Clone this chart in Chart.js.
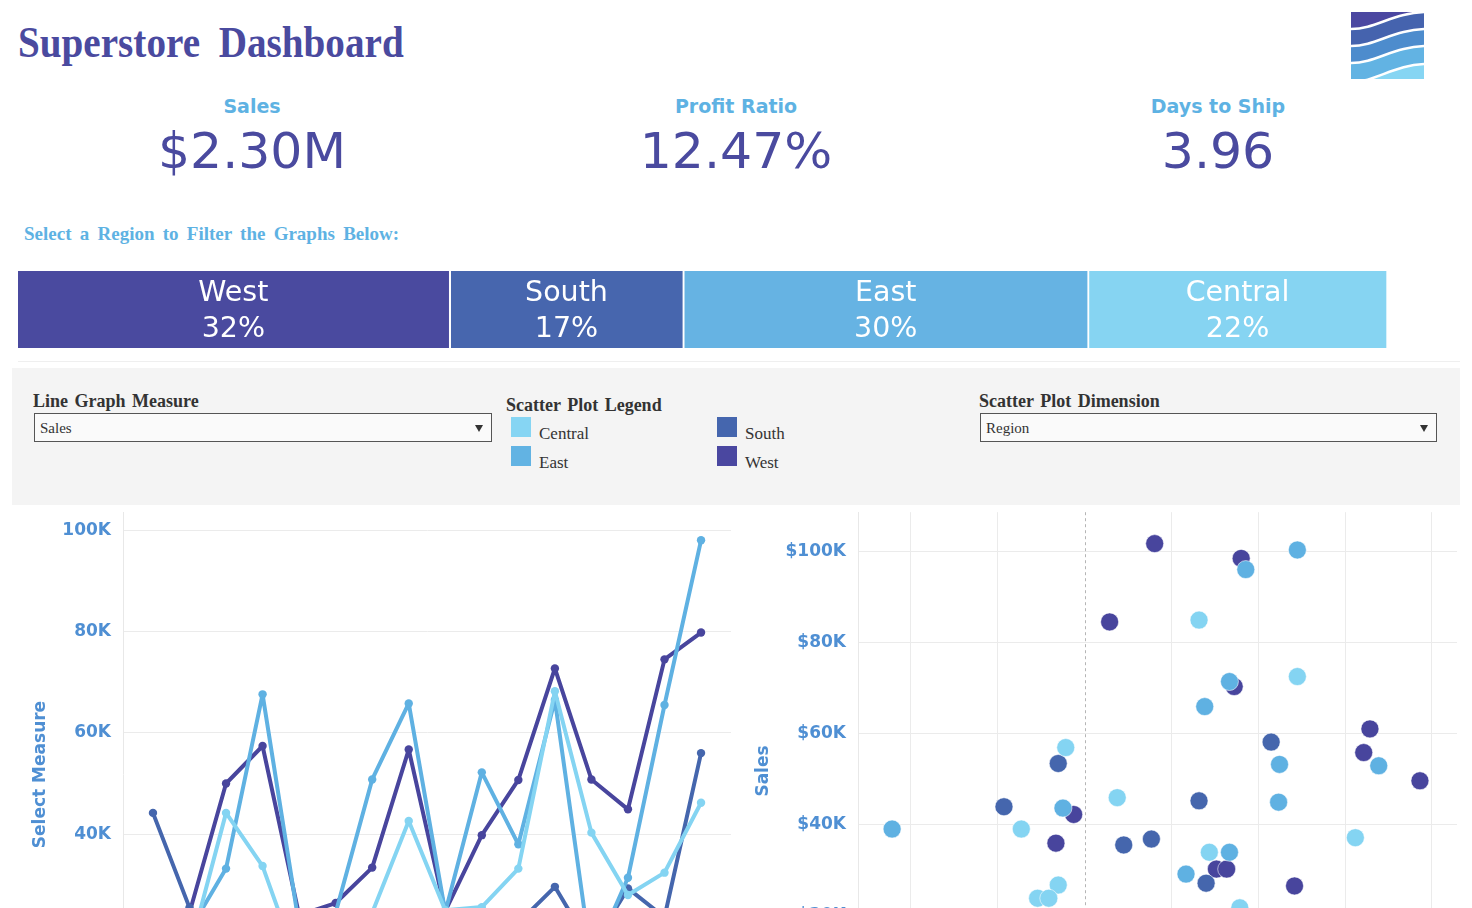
<!DOCTYPE html>
<html>
<head>
<meta charset="utf-8">
<script src="https://cdn.jsdelivr.net/npm/chart.js@4.4.1/dist/chart.umd.min.js"></script>
<style>
html,body{margin:0;padding:0;background:#fff;overflow:hidden;width:1472px;height:908px;}
body{position:relative;font-family:"DejaVu Sans",sans-serif;}
.abs{position:absolute;white-space:nowrap;}
#title{left:18px;top:18px;font-family:"Liberation Serif",serif;font-weight:bold;font-size:44px;line-height:50px;color:#4a4a9f;transform:scaleX(0.89);transform-origin:left top;word-spacing:10px;}
.kpi-label{position:absolute;width:400px;text-align:center;font-weight:bold;font-size:19px;line-height:19px;color:#5eb2e3;top:97px;}
.kpi-value{position:absolute;width:500px;text-align:center;font-size:50.5px;line-height:50px;color:#4a4a9f;top:126px;}
#filterText{left:24px;top:224px;font-family:"Liberation Serif",serif;font-weight:bold;font-size:19px;line-height:19px;color:#5eb2e3;word-spacing:3.5px;}
#sep{left:18px;top:361px;width:1442px;height:1px;background:#efefef;}
#panel{left:12px;top:368px;width:1448px;height:137px;background:#f4f4f4;}
.plabel{position:absolute;font-family:"Liberation Serif",serif;font-weight:bold;font-size:18px;line-height:18px;color:#333;word-spacing:2px;white-space:nowrap;}
.sel{position:absolute;top:413px;height:27px;background:#fafafa;border:1px solid #555;box-sizing:content-box;}
.sel span{position:absolute;left:5px;top:7px;font-family:"Liberation Serif",serif;font-size:15px;line-height:15px;color:#333;}
.sel i{position:absolute;top:11px;width:0;height:0;border-left:4px solid transparent;border-right:4px solid transparent;border-top:7px solid #333;}
.sw{position:absolute;width:20px;height:20px;}
.ltxt{position:absolute;font-family:"Liberation Serif",serif;font-size:17px;line-height:17px;color:#333;}
canvas{position:absolute;}
#logo{position:absolute;left:1351px;top:12px;}
</style>
</head>
<body>
<div id="title" class="abs">Superstore Dashboard</div>

<div class="kpi-label" style="left:52px;">Sales</div>
<div class="kpi-value" style="left:2px;">$2.30M</div>
<div class="kpi-label" style="left:536px;">Profit Ratio</div>
<div class="kpi-value" style="left:486px;">12.47%</div>
<div class="kpi-label" style="left:1018px;">Days to Ship</div>
<div class="kpi-value" style="left:968px;">3.96</div>

<svg id="logo" width="73" height="67" viewBox="0 0 73 67">
  <defs><clipPath id="lc"><rect x="0" y="0" width="73" height="67"/></clipPath></defs>
  <g clip-path="url(#lc)">
    <rect x="0" y="0" width="73" height="67" fill="#86d5f3"/>
    <path d="M-5,-5 L-5,70 L0,70 C26,70 42,52 78,52 L78,-5 Z" fill="#62b3e3"/>
    <path d="M-5,-5 L-5,51 L0,51 C26,51 42,34 78,34 L78,-5 Z" fill="#4d8ccd"/>
    <path d="M-5,-5 L-5,34 L0,34 C26,34 42,17 78,17 L78,-5 Z" fill="#4563ae"/>
    <path d="M-5,-5 L-5,17 L0,17 C26,17 42,0 78,0 L78,-5 Z" fill="#4b47a1"/>
    <path d="M0,70 C26,70 42,52 78,52 M0,51 C26,51 42,34 78,34 M0,34 C26,34 42,17 78,17 M0,17 C26,17 42,0 78,0" fill="none" stroke="#fff" stroke-width="2.5"/>
  </g>
</svg>

<div id="filterText" class="abs">Select a Region to Filter the Graphs Below:</div>

<canvas id="regionBar" width="1370" height="77" style="left:18px;top:271px;"></canvas>
<div id="sep" class="abs"></div>

<div id="panel" class="abs"></div>
<div class="plabel" style="left:33px;top:392px;">Line Graph Measure</div>
<div class="sel" style="left:34px;width:456px;"><span>Sales</span><i style="left:440px;"></i></div>
<div class="plabel" style="left:506px;top:396px;">Scatter Plot Legend</div>
<div class="sw" style="left:511px;top:417px;background:#86d5f3;"></div>
<div class="ltxt" style="left:539px;top:425px;">Central</div>
<div class="sw" style="left:511px;top:446px;background:#62b3e3;"></div>
<div class="ltxt" style="left:539px;top:454px;">East</div>
<div class="sw" style="left:717px;top:417px;background:#4566ae;"></div>
<div class="ltxt" style="left:745px;top:425px;">South</div>
<div class="sw" style="left:717px;top:446px;background:#4a47a0;"></div>
<div class="ltxt" style="left:745px;top:454px;">West</div>
<div class="plabel" style="left:979px;top:392px;">Scatter Plot Dimension</div>
<div class="sel" style="left:980px;width:455px;"><span>Region</span><i style="left:439px;"></i></div>

<canvas id="lineChart" width="719" height="569" style="left:12px;top:490px;"></canvas>
<canvas id="scatterChart" width="715" height="562" style="left:742px;top:490px;"></canvas>

<script>
// ---------------- DATA ----------------
const regions = ['West', 'South', 'East', 'Central'];
const regionSales = [725458, 391722, 678781, 501240];
const regionColors = ['#4a4a9f', '#4766ae', '#66b3e3', '#86d4f2'];

const quarters = ['Q1 2014','Q2 2014','Q3 2014','Q4 2014','Q1 2015','Q2 2015','Q3 2015','Q4 2015',
                  'Q1 2016','Q2 2016','Q3 2016','Q4 2016','Q1 2017','Q2 2017','Q3 2017','Q4 2017'];
const westSales    = [15000, 24500, 50000, 57400, 24000, 26400, 33400, 56700, 24800, 39800, 50700, 72700, 50800, 44900, 74500, 79800];
const southSales   = [44200, 25500, 15000, 18000, 14000, 19000, 16000, 21000, 17000, 20000, 22500, 29600, 17500, 29300, 23600, 56000];
const eastSales    = [10000, 21000, 33200, 67600, 22000, 24500, 50800, 65800, 24600, 52200, 38000, 66500, 15000, 31400, 65500, 98000];
const centralSales = [12000, 17000, 44200, 33700, 13500, 15000, 24500, 42600, 25000, 25600, 33200, 68200, 40300, 28000, 32400, 46200];
const lineTickValues = [0, 20000, 40000, 60000, 80000, 100000];

const westProfit    = [1615, 3608, 577, 3447, 6574, 6431, 7726, -251, -660, 3036, 3274, 4837];
const westPtSales   = [101800, 98550, 84600, 70400, 61100, 55900, 49700, 42300, 36000, 30300, 30300, 26600];
const southProfit   = [4298, -607, 2637, -1857, 902, 1539, 2800];
const southPtSales  = [58200, 53500, 45300, 44000, 35600, 36900, 27200];
const eastProfit    = [3714, 4902, 3338, 2768, 4491, 6777, 4470, -498, -4434, 3338, 2337];
const eastPtSales   = [96100, 100400, 71500, 66000, 53300, 53000, 45000, 43700, 39100, 34000, 29200];
const centralProfit = [2637, 4902, -434, 752, -1458, 6238, 2874, -607, -1082, -824, 3576];
const centralPtSales= [85000, 72600, 57000, 46000, 39100, 37200, 34000, 26800, 23900, 23900, 21800];
const scatterYTickValues = [0, 20000, 40000, 60000, 80000, 100000];
const scatterXGridValues = [-4000, -2000, 2000, 4000, 6000, 8000];
const scatterRefX = 0;

// ---------------- STYLE ----------------
Chart.defaults.font.family = '"DejaVu Sans", sans-serif';
Chart.defaults.animation = false;
const axisBlue = '#4f8fd3';
const gridGray = '#ebebeb';
const seriesColor = {West:'#48459d', South:'#4566ad', East:'#5fb1e2', Central:'#84d4f2'};

// ---------------- REGION BAR ----------------
const totalSales = regionSales.reduce((a,b)=>a+b,0);
const regionLabelPlugin = {
  id:'regionLabels',
  afterDatasetsDraw(chart){
    const ctx = chart.ctx;
    ctx.save();
    ctx.fillStyle = '#ffffff';
    ctx.textAlign = 'center';
    ctx.textBaseline = 'alphabetic';
    ctx.font = '28.5px "DejaVu Sans"';
    chart.data.datasets.forEach((ds, i) => {
      const el = chart.getDatasetMeta(i).data[0];
      const p = el.getProps(['x','base','y'], true);
      const cx = (p.x + p.base) / 2 - 1;
      const pct = Math.round(ds.data[0] / totalSales * 100) + '%';
      ctx.fillText(ds.label, cx, chart.chartArea.top + 30);
      ctx.fillText(pct, cx, chart.chartArea.top + 66);
    });
    ctx.restore();
  }
};
new Chart(document.getElementById('regionBar'), {
  type:'bar',
  data:{
    labels:['Region'],
    datasets: regions.map((r,i)=>({
      label:r, data:[regionSales[i]], backgroundColor:regionColors[i],
      borderColor:'#ffffff', borderWidth:{left:0,right:2,top:0,bottom:0}, borderSkipped:false,
      barPercentage:1, categoryPercentage:1
    }))
  },
  options:{
    indexAxis:'y', responsive:false, animation:false,
    layout:{padding:0, autoPadding:false},
    plugins:{legend:{display:false}, tooltip:{enabled:false}},
    scales:{
      x:{stacked:true, display:false, min:0, max:totalSales},
      y:{stacked:true, display:false}
    }
  },
  plugins:[regionLabelPlugin]
});

// ---------------- LINE CHART ----------------
const useTicks = (values) => (s) => { s.ticks = values.map(v => ({value: v})); };
const lineSeries = [
  {name:'Central', values:centralSales},
  {name:'East', values:eastSales},
  {name:'South', values:southSales},
  {name:'West', values:westSales}
];
new Chart(document.getElementById('lineChart'), {
  type:'line',
  data:{
    datasets: lineSeries.map(s=>({
      label:s.name,
      data:s.values.map((v,i)=>({x:i, y:v})),
      borderColor:seriesColor[s.name], backgroundColor:seriesColor[s.name],
      pointBackgroundColor:seriesColor[s.name], pointBorderWidth:0,
      borderWidth:4, pointRadius:4.2, tension:0, fill:false,
      borderJoinStyle:'round', borderCapStyle:'round'
    }))
  },
  options:{
    responsive:false, animation:false,
    layout:{padding:0, autoPadding:false},
    plugins:{legend:{display:false}, tooltip:{enabled:false}},
    scales:{
      x:{type:'linear', min:-0.82, max:15.82, display:false,
         ticks:{callback:(v)=>quarters[v] || ''}},
      y:{
        min:0, max:103550,
        afterBuildTicks:useTicks(lineTickValues),
        ticks:{color:axisBlue, padding:12, autoSkip:false,
               font:{size:17, weight:'bold'},
               callback:(v)=> (v/1000)+'K'},
        afterFit:(s)=>{ s.width = 111; },
        grid:{drawTicks:false, color:gridGray},
        border:{display:true, color:'#e8e8e8'},
        title:{display:true, text:'Select Measure', color:axisBlue,
               font:{size:17, weight:'bold'}, padding:{top:18, bottom:0}}
      }
    }
  }
});

// ---------------- SCATTER ----------------
const refLinePlugin = {
  id:'refLine',
  beforeDatasetsDraw(chart){
    const xs = chart.scales.x, area = chart.chartArea, ctx = chart.ctx;
    const px = Math.round(xs.getPixelForValue(scatterRefX)) + 0.5;
    ctx.save();
    ctx.strokeStyle = '#b5b5b5';
    ctx.lineWidth = 1;
    ctx.setLineDash([3,3]);
    ctx.beginPath(); ctx.moveTo(px, area.top); ctx.lineTo(px, area.bottom); ctx.stroke();
    ctx.restore();
  }
};
const scatterSeries = [
  {name:'Central', x:centralProfit, y:centralPtSales},
  {name:'East', x:eastProfit, y:eastPtSales},
  {name:'South', x:southProfit, y:southPtSales},
  {name:'West', x:westProfit, y:westPtSales}
];
new Chart(document.getElementById('scatterChart'), {
  type:'scatter',
  data:{
    datasets: scatterSeries.map(s=>({
      label:s.name,
      data:s.x.map((v,i)=>({x:v, y:s.y[i]})),
      backgroundColor:seriesColor[s.name],
      borderColor:'rgba(255,255,255,0.55)', borderWidth:1,
      pointRadius:9
    }))
  },
  options:{
    responsive:false, animation:false,
    layout:{padding:0, autoPadding:false},
    plugins:{legend:{display:false}, tooltip:{enabled:false}},
    scales:{
      x:{type:'linear', min:-5220, max:8580,
         afterBuildTicks:useTicks(scatterXGridValues),
         afterFit:(s)=>{ s.height = 0; },
         ticks:{display:false, autoSkip:false, padding:0},
         grid:{drawTicks:false, color:gridGray},
         border:{display:false}},
      y:{
        min:-5000, max:108700,
        afterBuildTicks:useTicks(scatterYTickValues),
        ticks:{color:axisBlue, padding:12, autoSkip:false,
               font:{size:17, weight:'bold'},
               callback:(v)=> '$'+(v/1000)+'K'},
        afterFit:(s)=>{ s.width = 116; },
        grid:{drawTicks:false, color:gridGray},
        border:{display:true, color:'#e8e8e8'},
        title:{display:true, text:'Sales', color:axisBlue,
               font:{size:17, weight:'bold'}, padding:{top:11, bottom:0}}
      }
    }
  },
  plugins:[refLinePlugin]
});
</script>
</body>
</html>
